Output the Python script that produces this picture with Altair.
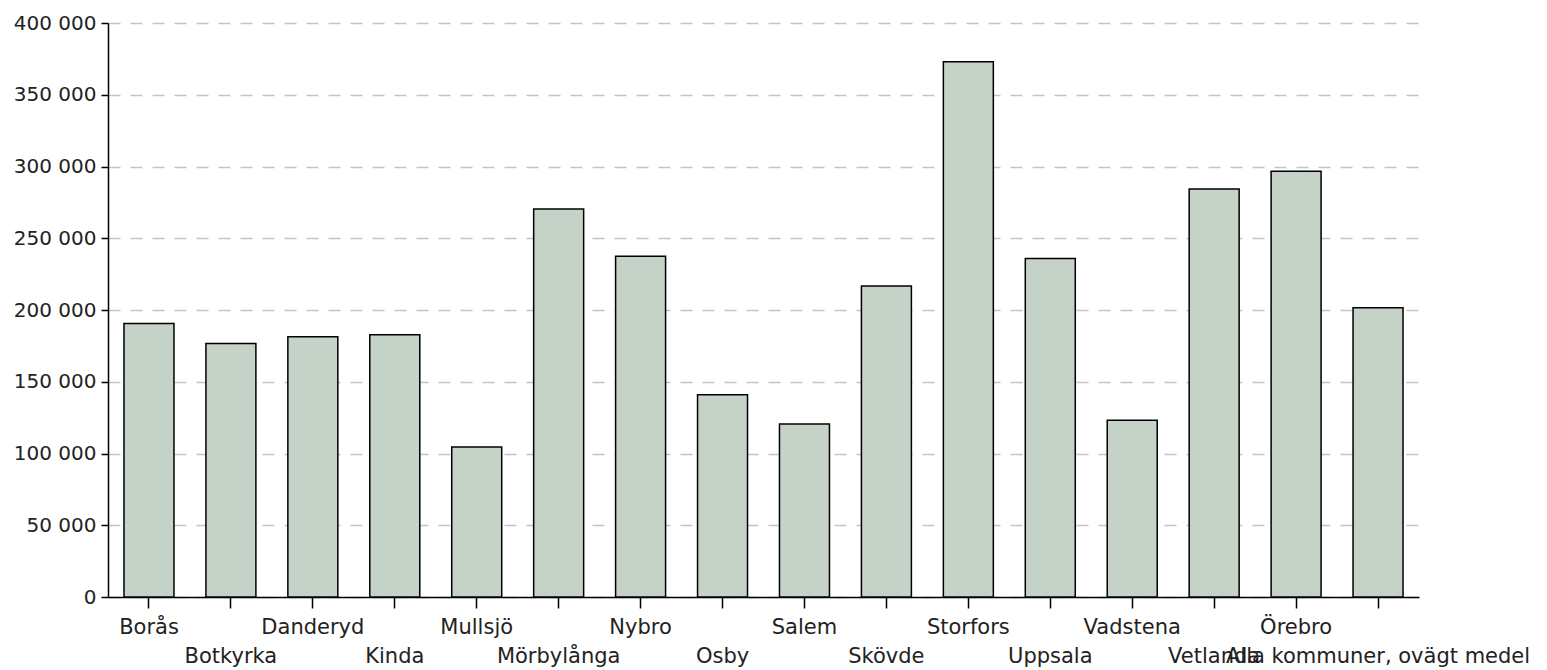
import altair as alt
import pandas as pd

categories = ["Borås", "Botkyrka", "Danderyd", "Kinda", "Mullsjö", "Mörbylånga",
              "Nybro", "Osby", "Salem", "Skövde", "Storfors", "Uppsala",
              "Vadstena", "Vetlanda", "Örebro", "Alla kommuner, ovägt medel"]
values = [190650, 176600, 181400, 182800, 104600, 270300,
          237500, 141000, 120500, 216800, 373000, 235900,
          123200, 284300, 296700, 201600]
y_ticks = [0, 50000, 100000, 150000, 200000, 250000, 300000, 350000, 400000]

df = pd.DataFrame({"kommun": categories, "varde": values})

W, H = 1311, 574
FONT = "DejaVu Sans"

base = alt.Chart(df).transform_window(
    idx="row_number()"
).encode(
    x=alt.X("kommun:N", sort=categories,
            scale=alt.Scale(paddingInner=0.39, paddingOuter=0.195),
            axis=alt.Axis(title=None, labels=False, grid=False, tickSize=11,
                          tickWidth=1.5, tickColor="black", domainColor="black",
                          domainWidth=1.5))
)

bars = base.mark_bar(fill="#c5d2c8", stroke="black", strokeWidth=1.5).encode(
    y=alt.Y("varde:Q", scale=alt.Scale(domain=[0, 400000], nice=False),
            axis=alt.Axis(title=None, values=y_ticks,
                          labelExpr="replace(format(datum.value, ','), ',', ' ')",
                          labelFont=FONT, labelFontSize=20, labelColor="#222222",
                          labelPadding=5, tickSize=7, tickWidth=1.5, tickColor="black",
                          domainColor="black", domainWidth=1.5,
                          grid=True, gridColor="#c4c4c4", gridWidth=1.5,
                          gridDash=[12, 10]))
)

row1 = base.mark_text(font=FONT, fontSize=21, baseline="alphabetic", align="center",
                      color="#222222").encode(
    y=alt.value(H + 37), text="kommun:N"
).transform_filter("datum.idx % 2 == 1")

row2 = base.mark_text(font=FONT, fontSize=21, baseline="alphabetic", align="center",
                      color="#222222").encode(
    y=alt.value(H + 66), text="kommun:N"
).transform_filter("datum.idx % 2 == 0")

chart = alt.layer(bars, row1, row2).properties(
    width=W, height=H, background="white",
    padding={"left": 5, "top": 5, "right": 0, "bottom": 0}
).configure_view(stroke=None)

chart.save("out.html", embed_options={"renderer": "svg", "actions": False})
